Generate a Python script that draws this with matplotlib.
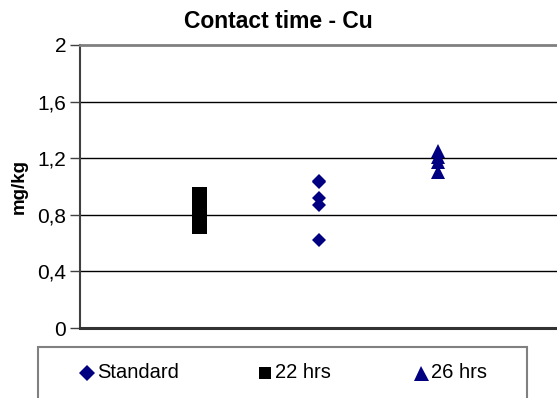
import matplotlib
matplotlib.use("Agg")
import matplotlib.pyplot as plt
from matplotlib.lines import Line2D
from matplotlib.patches import Rectangle
from matplotlib.ticker import FuncFormatter

# ---- data -------------------------------------------------------------
SERIES = ["Standard", "22 hrs", "26 hrs"]
X_POS = [2, 1, 3]                       # category slot of each series
STANDARD = [1.04, 1.03, 0.92, 0.87, 0.62]
HRS_22 = [0.95, 0.91, 0.87, 0.82, 0.77, 0.72]
HRS_26 = [1.25, 1.21, 1.17, 1.10]
Y_TICKS = [0, 0.4, 0.8, 1.2, 1.6, 2.0]

NAVY = "#000080"
STYLES = [("D", NAVY, 7.6), ("s", "black", 10.8), ("^", NAVY, 9.6)]

W, H = 557, 398
plt.rcParams["font.family"] = ["Liberation Sans", "DejaVu Sans"]

fig = plt.figure(figsize=(W / 100, H / 100), dpi=100)
fig.patch.set_facecolor("white")
ax = fig.add_axes([80 / W, 1 - 328 / H, 1 - 80 / W, (328 - 45) / H])

for vals, xp, (mk, col, ms) in zip([STANDARD, HRS_22, HRS_26], X_POS, STYLES):
    ax.plot([xp] * len(vals), vals, linestyle="none", marker=mk,
            color=col, markersize=ms, markeredgewidth=0, zorder=3)

ax.set_xlim(0, 4)
ax.set_ylim(0, 2)
ax.set_yticks(Y_TICKS)
ax.yaxis.set_major_formatter(
    FuncFormatter(lambda v, _: f"{v:g}".replace(".", ",")))
ax.set_xticks([])
ax.tick_params(axis="y", length=7, width=1, color="#404040",
               labelsize=15, pad=3)
for y in Y_TICKS[1:-1]:
    ax.axhline(y, color="black", linewidth=1.0, zorder=1)

ax.spines["left"].set_color("#404040")
ax.spines["left"].set_linewidth(1.5)
ax.spines["bottom"].set_color("#333333")
ax.spines["bottom"].set_linewidth(2.2)
ax.spines["top"].set_color("#808080")
ax.spines["top"].set_linewidth(2.0)
ax.spines["right"].set_visible(False)

ax.set_ylabel("mg/kg", fontsize=13.5, fontweight="bold", labelpad=7)
fig.text(0.5, 1 - 22 / H, "Contact time - Cu", ha="center", va="center",
         fontsize=16.5, fontweight="bold")

# ---- legend box (bottom cut off like the original) --------------------
fig.add_artist(Rectangle((38 / W, -0.02), (527 - 38) / W, 1 - 347 / H + 0.02,
                         transform=fig.transFigure, facecolor="white",
                         edgecolor="#808080", linewidth=1.5))
leg_marker_x = [87, 265, 421]
leg_sizes = [8.0, 8.4, 10.8]
ly = 1 - 373 / H
for name, mx, (mk, col, _), ms in zip(SERIES, leg_marker_x, STYLES, leg_sizes):
    fig.add_artist(Line2D([mx / W], [ly], transform=fig.transFigure,
                          marker=mk, color=col, markersize=ms,
                          markeredgewidth=0, linestyle="none"))
    fig.text((mx + 10) / W, ly, name, ha="left", va="center", fontsize=14.5)

fig.savefig("out.png", dpi=100, facecolor="white")
